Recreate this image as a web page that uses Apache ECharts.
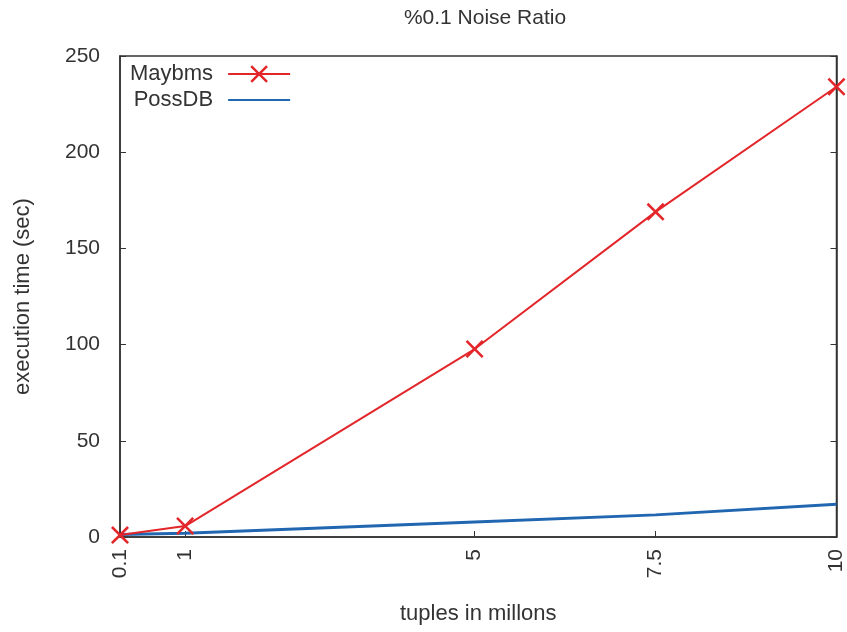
<!DOCTYPE html>
<html>
<head>
<meta charset="utf-8">
<script src="https://cdn.jsdelivr.net/npm/echarts@6/dist/echarts.min.js"></script>
<style>html,body{margin:0;padding:0;background:#fff}#c{width:847px;height:632px}</style>
</head>
<body>
<div id="c"></div>
<script>
const xValues = [0.1, 1, 5, 7.5, 10];
const maybms = [1.0, 5.7, 97.7, 169, 234];
const possdb = [1.3, 2.0, 7.8, 11.5, 17.0];
const xTicks = [0.1, 1, 5, 7.5, 10];
const yTicks = [0, 50, 100, 150, 200, 250];
const seriesNames = ['Maybms', 'PossDB'];
const titleText = '%0.1 Noise Ratio';
const xName = 'tuples in millons';
const yName = 'execution time (sec)';

const font = 'Liberation Sans, Arial, sans-serif';
const axisColor = '#333';
const textColor = '#333';
const crossPath = 'path://M0,1L1,0L5,4L9,0L10,1L6,5L10,9L9,10L5,6L1,10L0,9L4,5Z';

const chart = echarts.init(document.getElementById('c'));
chart.setOption({
  animation: false,
  backgroundColor: '#fff',
  title: {
    text: titleText, left: 480, top: 3, textAlign: 'center',
    textStyle: { fontFamily: font, fontSize: 21, fontWeight: 'normal', color: textColor }
  },
  grid: { left: 120, right: 7, top: 56, bottom: 95, show: true, borderColor: axisColor, borderWidth: 1.5 },
  legend: {
    orient: 'vertical', left: 125, top: 58, align: 'right', itemGap: 4,
    itemWidth: 62, itemHeight: 22,
    textStyle: { fontFamily: font, fontSize: 22, color: textColor, width: 83, align: 'right', padding: [0, 10, 0, 0] },
    data: [
      { name: seriesNames[0] },
      { name: seriesNames[1], itemStyle: { opacity: 0 } }
    ]
  },
  xAxis: {
    type: 'value', min: 0.1, max: 10,
    name: xName, nameLocation: 'middle', nameGap: 66,
    nameTextStyle: { fontFamily: font, fontSize: 22, color: textColor },
    axisLine: { show: true, lineStyle: { color: axisColor, width: 1.5 } },
    axisTick: { show: true, inside: true, length: 6, customValues: xTicks, lineStyle: { color: axisColor } },
    axisLabel: { customValues: xTicks, rotate: 90, margin: 12, fontFamily: font, fontSize: 21, color: textColor },
    splitLine: { show: false }
  },
  yAxis: [{
    type: 'value', min: 0, max: 250, interval: 50,
    name: yName, nameLocation: 'middle', nameGap: 86,
    nameTextStyle: { fontFamily: font, fontSize: 22, color: textColor },
    axisLine: { show: true, lineStyle: { color: axisColor, width: 1.5 } },
    axisTick: { show: true, inside: true, length: 6, lineStyle: { color: axisColor } },
    axisLabel: { margin: 20, fontFamily: font, fontSize: 21, color: textColor },
    splitLine: { show: false }
  }, {
    type: 'value', min: 0, max: 250, interval: 50, position: 'right',
    axisLine: { show: true, lineStyle: { color: axisColor, width: 1.5 } },
    axisTick: { show: true, inside: true, length: 6, lineStyle: { color: axisColor } },
    axisLabel: { show: false },
    splitLine: { show: false }
  }],
  series: [{
    name: seriesNames[0], type: 'line',
    data: xValues.map((x, i) => [x, maybms[i]]),
    symbol: crossPath, symbolSize: 18, showSymbol: true,
    lineStyle: { color: '#e3262a', width: 2 },
    itemStyle: { color: '#e3262a' },
    z: 3
  }, {
    name: seriesNames[1], type: 'line',
    data: xValues.map((x, i) => [x, possdb[i]]),
    symbol: 'none',
    lineStyle: { color: '#2166b0', width: 3 },
    itemStyle: { color: '#2166b0' },
    z: 2
  }]
});
</script>
</body>
</html>
